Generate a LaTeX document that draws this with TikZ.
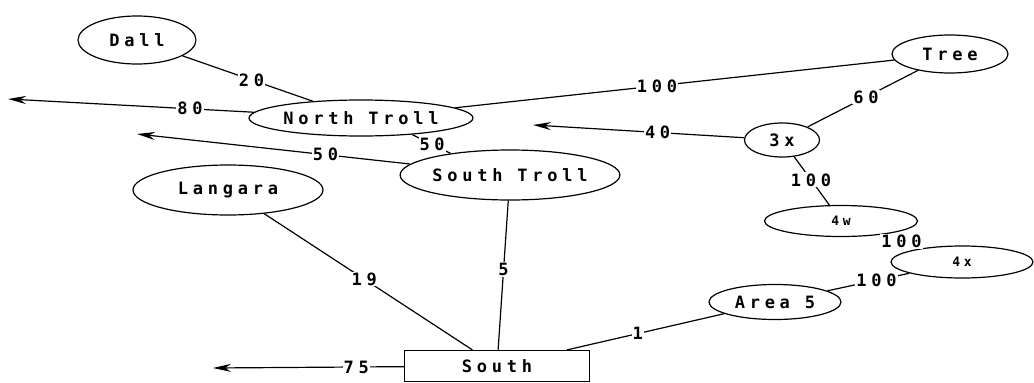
\documentclass[tikz,border=0pt]{standalone}
\usepackage{fontspec}
\setmonofont[LetterSpace=28, BoldFont={DejaVu Sans Mono Bold}]{DejaVu Sans Mono}
\usepackage{tikz}
\usetikzlibrary{shapes.geometric,arrows.meta}

\begin{document}
\begin{tikzpicture}[x=1pt, y=-1pt, >={Stealth[length=18pt,width=8pt]}, line width=1.2pt,
        font=\ttfamily\bfseries\fontsize{17}{17}\selectfont,
        place/.style={ellipse, draw=black, inner sep=0pt},
        lbl/.style={fill=white, inner sep=1pt},
        small/.style={font=\ttfamily\bfseries\fontsize{13}{13}\selectfont}]
        \useasboundingbox (0,0) rectangle (1034,383);

        \node[place, minimum width=118pt, minimum height=48pt] (dall) at (137,40) {Dall};
        \node[place, minimum width=224pt, minimum height=36pt] (nt) at (361,118) {North Troll};
        \node[place, minimum width=214pt, minimum height=50pt] (st) at (510,175) {South Troll};
        \node[place, minimum width=190pt, minimum height=50pt] (lang) at (228,190) {Langara};
        \node[place, minimum width=116pt, minimum height=38pt] (tree) at (950,54) {Tree};
        \node[place, minimum width=75pt, minimum height=34pt] (x3) at (782,140) {3x};
        \node[place, small, minimum width=153pt, minimum height=31pt] (w4) at (841,221) {4w};
        \node[place, small, minimum width=142pt, minimum height=32pt] (x4) at (962,262) {4x};
        \node[place, minimum width=132pt, minimum height=35pt] (area) at (775,302) {Area 5};
        \node[draw=black, rectangle, minimum width=185pt, minimum height=31pt] (south) at (497,366) {South};

        \coordinate (a80) at (8,99);
        \coordinate (a50) at (137,134);
        \coordinate (a40) at (533,125);
        \coordinate (a75) at (213,368);

        \path (dall) edge node[lbl, pos=.53] {20} (nt)
              (nt) edge[->] node[lbl, pos=.26] {80} (a80)
              (st) edge[->] node[lbl, pos=.31] {50} (a50)
              (nt.-18) edge node[lbl, pos=.52] {50} (st.160)
              (nt) edge node[lbl, pos=.46] {100} (tree)
              (tree) edge node[lbl, pos=.47] {60} (x3)
              (x3) edge[->] node[lbl, pos=.41] {40} (a40)
              (x3) edge node[lbl, pos=.48] {100} (w4)
              (w4) edge node[lbl, pos=.5] {100} (x4)
              (x4) edge node[lbl, pos=.4] {100} (area)
              (area) edge node[lbl, pos=.55] {1} (south)
              (lang) edge node[lbl, pos=.48] {19} (south)
              (st) edge node[lbl, pos=.46] {5} (south)
              (south) edge[->] node[lbl, pos=.25] {75} (a75);
    \end{tikzpicture}
\end{document}
